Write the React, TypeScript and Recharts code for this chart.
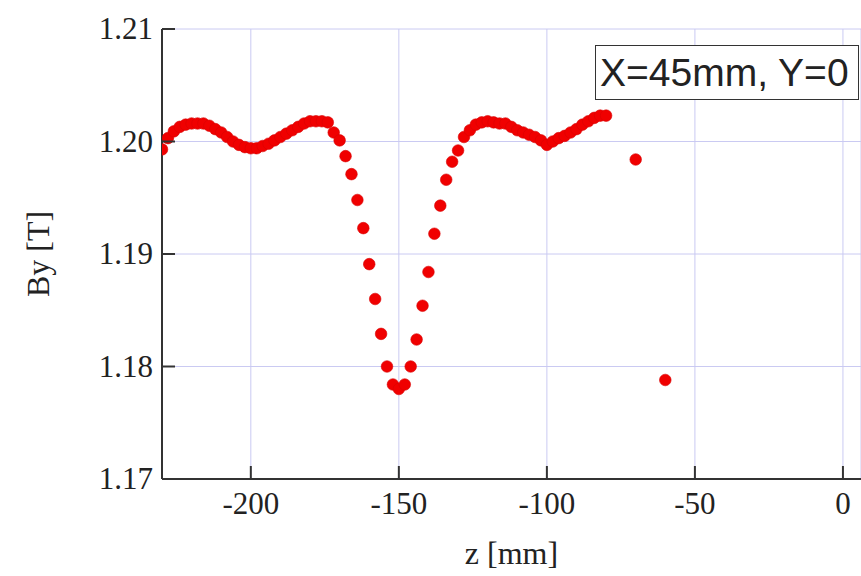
import React from 'react';
import { ScatterChart, Scatter, XAxis, YAxis, CartesianGrid } from 'recharts';

const zValues = [
  -230, -228, -226, -224, -222, -220, -218, -216, -214, -212, -210, -208, -206, -204, -202, -200,
  -198, -196, -194, -192, -190, -188, -186, -184, -182, -180, -178, -176, -174, -172, -170, -168,
  -166, -164, -162, -160, -158, -156, -154, -152, -150, -148, -146, -144, -142, -140, -138, -136,
  -134, -132, -130, -128, -126, -124, -122, -120, -118, -116, -114, -112, -110, -108, -106, -104,
  -102, -100, -98, -96, -94, -92, -90, -88, -86, -84, -82, -80, -70, -60,
];

const byValues = [
  1.1993, 1.2003, 1.2009, 1.2013, 1.2015, 1.2016, 1.2016, 1.2016, 1.2014, 1.2011, 1.2008, 1.2004, 1.2000, 1.1997, 1.1995, 1.1994,
  1.1994, 1.1996, 1.1998, 1.2001, 1.2004, 1.2007, 1.2010, 1.2013, 1.2016, 1.2018, 1.2018, 1.2018, 1.2017, 1.2008, 1.2001, 1.1987,
  1.1971, 1.1948, 1.1923, 1.1891, 1.1860, 1.1829, 1.1800, 1.1784, 1.1780, 1.1784, 1.1800, 1.1824, 1.1854, 1.1884, 1.1918, 1.1943,
  1.1966, 1.1982, 1.1992, 1.2004, 1.2010, 1.2015, 1.2017, 1.2018, 1.2017, 1.2016, 1.2016, 1.2013, 1.2010, 1.2008, 1.2006, 1.2004,
  1.2001, 1.1997, 1.2000, 1.2003, 1.2005, 1.2008, 1.2011, 1.2015, 1.2018, 1.2021, 1.2023, 1.2023, 1.1984, 1.1788,
];

const xTicks = [-200, -150, -100, -50, 0];
const yTicks = [1.17, 1.18, 1.19, 1.2, 1.21];

const data = zValues.map((z, i) => ({ z, by: byValues[i] }));

const FRAME = '#333';
const SERIF = '"Liberation Serif", "Times New Roman", serif';
const TICK_FONT = { fontFamily: SERIF, fontSize: 31, fill: '#222' };

const BottomTick = (props: any) => {
  const { x, y, payload } = props;
  return (
    <g>
      <line x1={x} y1={y} x2={x} y2={y - 13} stroke={FRAME} strokeWidth={2} />
      <text x={x} y={y + 35} textAnchor="middle" {...TICK_FONT}>{payload.value}</text>
    </g>
  );
};

const TopTick = (props: any) => {
  const { x, y } = props;
  return <line x1={x} y1={y} x2={x} y2={y + 13} stroke={FRAME} strokeWidth={2} />;
};

const LeftTick = (props: any) => {
  const { x, y, payload } = props;
  return (
    <g>
      <line x1={x} y1={y} x2={x + 13} y2={y} stroke={FRAME} strokeWidth={2} />
      <text x={x - 9} y={y + 10} textAnchor="end" {...TICK_FONT}>{Number(payload.value).toFixed(2)}</text>
    </g>
  );
};

const Dot = (props: any) => {
  const { cx, cy } = props;
  return <circle cx={cx} cy={cy} r={5.8} fill="#f00000" stroke="#d80000" strokeWidth={0.6} />;
};

export default function App() {
  return (
    <div style={{ position: 'absolute', left: 0, top: 0, width: 861, height: 576, background: '#fff' }}>
      <ScatterChart width={861} height={576} margin={{ top: 29, right: 0, bottom: 37, left: 0 }}>
        <CartesianGrid stroke="#cacaf2" strokeWidth={1} />
        <XAxis
          type="number"
          dataKey="z"
          domain={[-230, 6.1]}
          ticks={xTicks}
          allowDataOverflow
          height={60}
          tickSize={0}
          tickMargin={0}
          tick={<BottomTick />}
          axisLine={{ stroke: FRAME, strokeWidth: 2 }}
          tickLine={false}
          label={{ value: 'z [mm]', position: 'bottom', offset: 2, style: { fontFamily: SERIF, fontSize: 32, fill: '#222' } }}
        />
        <XAxis
          xAxisId="top"
          orientation="top"
          type="number"
          dataKey="z"
          domain={[-230, 6.1]}
          ticks={xTicks}
          allowDataOverflow
          height={0}
          tickSize={0}
          tickMargin={0}
          tick={<TopTick />}
          axisLine={{ stroke: FRAME, strokeWidth: 2 }}
          tickLine={false}
        />
        <YAxis
          type="number"
          dataKey="by"
          domain={[1.17, 1.21]}
          ticks={yTicks}
          allowDataOverflow
          width={162}
          tickSize={0}
          tickMargin={0}
          tick={<LeftTick />}
          axisLine={{ stroke: FRAME, strokeWidth: 2 }}
          tickLine={false}
          label={{ value: 'By [T]', angle: -90, position: 'insideLeft', offset: 38, style: { textAnchor: 'middle', fontFamily: SERIF, fontSize: 32, fill: '#222' } }}
        />
        <Scatter data={data} shape={<Dot />} isAnimationActive={false} />
      </ScatterChart>
      <div
        style={{
          position: 'absolute',
          left: 595,
          top: 45,
          width: 258,
          height: 53,
          border: '1.5px solid #333',
          background: '#fff',
          fontFamily: '"Liberation Sans", Arial, sans-serif',
          fontSize: 39,
          color: '#222',
          lineHeight: '53px',
          paddingLeft: 4,
          boxSizing: 'content-box',
          whiteSpace: 'nowrap',
          overflow: 'hidden',
        }}
      >
        X=45mm, Y=0
      </div>
    </div>
  );
}
